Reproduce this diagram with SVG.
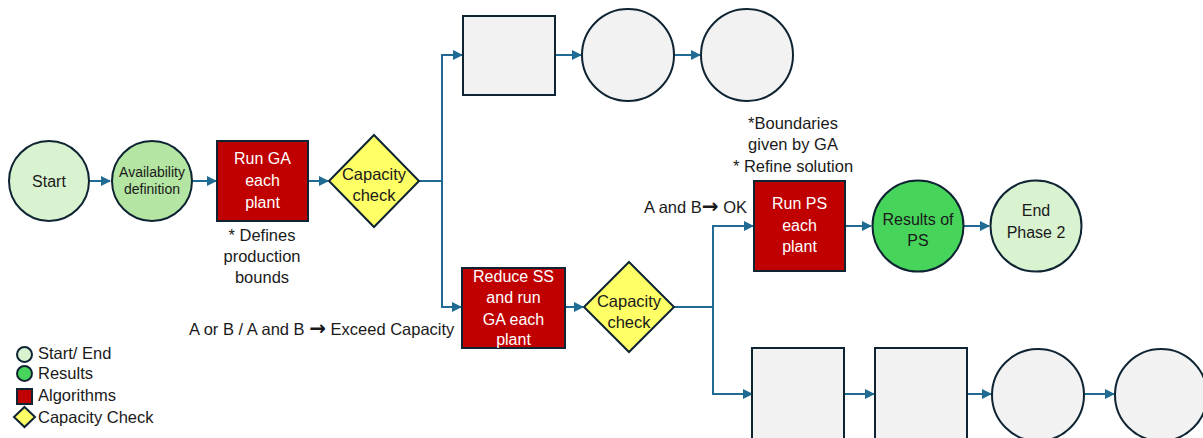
<svg xmlns="http://www.w3.org/2000/svg" width="1203" height="438" viewBox="0 0 1203 438">
<defs>
<style>
.nd{stroke:#0e2433;stroke-width:2}
.startend{fill:#d9f2d0}
.avail{fill:#b4e5a2}
.res{fill:#47d45a}
.alg{fill:#c00000}
.chk{fill:#ffff66}
.blank{fill:#f2f2f2}
.t{font-family:"Liberation Sans",Arial,sans-serif;font-size:16px;fill:#1a1a1a;text-anchor:middle}
.w{fill:#ffffff}
.lbl{font-family:"Liberation Sans",Arial,sans-serif;font-size:16.5px;fill:#1a1a1a}
.arr{font-family:"DejaVu Sans",sans-serif;font-weight:bold;font-size:20px}
.c{fill:none;stroke:#1f6b93;stroke-width:2}
</style>
<marker id="ah" viewBox="0 0 10 10" refX="9" refY="5" markerWidth="5" markerHeight="5" orient="auto" markerUnits="strokeWidth">
<path d="M0,0 L10,5 L0,10 z" fill="#1f6b93"/>
</marker>
</defs>
<rect width="1203" height="438" fill="#ffffff"/>

<g id="connectors">
<line class="c" x1="89" y1="181" x2="110" y2="181" marker-end="url(#ah)"/>
<line class="c" x1="192" y1="181" x2="216" y2="181" marker-end="url(#ah)"/>
<line class="c" x1="308" y1="181" x2="328" y2="181" marker-end="url(#ah)"/>
<polyline class="c" points="419,181 442,181 442,55 462,55" marker-end="url(#ah)"/>
<polyline class="c" points="442,181 442,307 461,307" marker-end="url(#ah)"/>
<line class="c" x1="555" y1="55" x2="581" y2="55" marker-end="url(#ah)"/>
<line class="c" x1="674" y1="55" x2="700" y2="55" marker-end="url(#ah)"/>
<line class="c" x1="565" y1="307" x2="583" y2="307" marker-end="url(#ah)"/>
<polyline class="c" points="674,307 713,307 713,226 753,226" marker-end="url(#ah)"/>
<polyline class="c" points="713,307 713,394 752,394" marker-end="url(#ah)"/>
<line class="c" x1="845" y1="226" x2="871" y2="226" marker-end="url(#ah)"/>
<line class="c" x1="963" y1="226" x2="989" y2="226" marker-end="url(#ah)"/>
<line class="c" x1="844" y1="394" x2="874" y2="394" marker-end="url(#ah)"/>
<line class="c" x1="967" y1="394" x2="991" y2="394" marker-end="url(#ah)"/>
<line class="c" x1="1084" y1="394" x2="1114" y2="394" marker-end="url(#ah)"/>
</g>

<g id="start">
<circle class="nd startend" cx="49" cy="181" r="40"/>
<text class="t" x="49" y="187">Start</text>
</g>
<g id="availability">
<circle class="nd avail" cx="152" cy="181" r="40"/>
<text class="t" style="font-size:14px" x="152" y="177">Availability</text>
<text class="t" style="font-size:14px" x="152" y="194">definition</text>
</g>
<g id="run-ga">
<rect class="nd alg" x="217" y="141" width="91" height="80"/>
<text class="t w" x="262.5" y="164">Run GA</text>
<text class="t w" x="262.5" y="186">each</text>
<text class="t w" x="262.5" y="208">plant</text>
</g>
<g id="run-ga-note">
<text class="t" style="font-size:16.5px" x="262" y="241">* Defines</text>
<text class="t" style="font-size:16.5px" x="262" y="262">production</text>
<text class="t" style="font-size:16.5px" x="262" y="283">bounds</text>
</g>
<g id="capacity-check-1">
<polygon class="nd chk" points="374,135 419,181 374,227 329,181"/>
<text class="t" style="font-size:16.5px" x="374" y="180">Capacity</text>
<text class="t" style="font-size:16.5px" x="374" y="201">check</text>
</g>
<g id="top-box">
<rect class="nd blank" x="463" y="16" width="92" height="79"/>
</g>
<g id="top-circle-1">
<circle class="nd blank" cx="628" cy="55" r="46"/>
</g>
<g id="top-circle-2">
<circle class="nd blank" cx="747" cy="55" r="46"/>
</g>
<g id="reduce-ss">
<rect class="nd alg" x="462" y="268" width="103" height="80"/>
<text class="t w" x="513.5" y="282">Reduce SS</text>
<text class="t w" x="513.5" y="303">and run</text>
<text class="t w" x="513.5" y="325">GA each</text>
<text class="t w" x="513.5" y="345">plant</text>
</g>
<g id="exceed-label">
<text class="lbl" x="189" y="335">A or B / A and B <tspan class="arr">→</tspan> Exceed Capacity</text>
</g>
<g id="capacity-check-2">
<polygon class="nd chk" points="629,262 674,307 629,352 584,307"/>
<text class="t" style="font-size:16.5px" x="629" y="307">Capacity</text>
<text class="t" style="font-size:16.5px" x="629" y="328">check</text>
</g>
<g id="ok-label">
<text class="lbl" x="644" y="213">A and B<tspan class="arr">→</tspan> OK</text>
</g>
<g id="run-ps-note">
<text class="t" style="font-size:16.5px" x="793" y="129">*Boundaries</text>
<text class="t" style="font-size:16.5px" x="793" y="150">given by GA</text>
<text class="t" style="font-size:16.5px" x="793" y="172">* Refine solution</text>
</g>
<g id="run-ps">
<rect class="nd alg" x="754" y="181" width="91" height="90"/>
<text class="t w" x="799.5" y="209">Run PS</text>
<text class="t w" x="799.5" y="231">each</text>
<text class="t w" x="799.5" y="252">plant</text>
</g>
<g id="results-ps">
<circle class="nd res" cx="918" cy="226" r="45.5"/>
<text class="t" x="918" y="225">Results of</text>
<text class="t" x="918" y="246">PS</text>
</g>
<g id="end-phase-2">
<circle class="nd startend" cx="1036" cy="226" r="45.5"/>
<text class="t" x="1036" y="216">End</text>
<text class="t" x="1036" y="238">Phase 2</text>
</g>
<g id="bottom-box-1">
<rect class="nd blank" x="752" y="348" width="92" height="92"/>
</g>
<g id="bottom-box-2">
<rect class="nd blank" x="875" y="348" width="92" height="92"/>
</g>
<g id="bottom-circle-1">
<circle class="nd blank" cx="1038" cy="395" r="46"/>
</g>
<g id="bottom-circle-2">
<circle class="nd blank" cx="1161" cy="395" r="46"/>
</g>

<g id="legend">
<circle class="nd startend" cx="24.5" cy="354.5" r="7.5"/>
<text class="lbl" x="38" y="359">Start/ End</text>
<circle class="nd res" cx="24.5" cy="373.5" r="7.5"/>
<text class="lbl" x="38" y="379">Results</text>
<rect class="nd alg" x="17" y="389" width="15" height="15"/>
<text class="lbl" x="38" y="401">Algorithms</text>
<polygon class="nd chk" points="24.5,407 35,417 24.5,427 14,417"/>
<text class="lbl" x="38" y="423">Capacity Check</text>
</g>
</svg>
